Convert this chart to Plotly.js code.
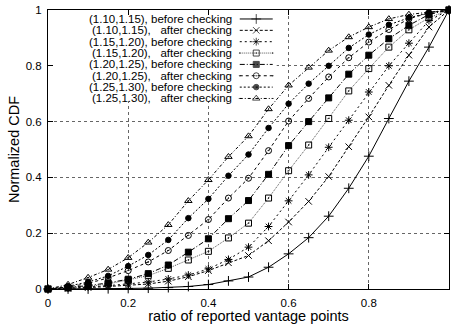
<!DOCTYPE html>
<html>
<head>
<meta charset="utf-8">
<script src="https://cdn.plot.ly/plotly-3.0.1.min.js"></script>
<style>html,body{margin:0;padding:0;background:#fff;}#chart{width:451px;height:324px;}</style>
</head>
<body>
<div id="chart"></div>
<script>
// ---- data ----
const ratio = [0, 0.05, 0.1, 0.15, 0.2, 0.25, 0.3, 0.35, 0.4, 0.45, 0.5, 0.55, 0.6, 0.65, 0.7, 0.75, 0.8, 0.85, 0.9, 0.95, 1];
const s110_115_before = [0, 0, 0, 0.001, 0.002, 0.003, 0.005, 0.009, 0.016, 0.029, 0.043, 0.078, 0.126, 0.184, 0.261, 0.361, 0.476, 0.611, 0.745, 0.867, 1];
const s110_115_after  = [0, 0.002, 0.005, 0.009, 0.013, 0.018, 0.028, 0.044, 0.066, 0.094, 0.12, 0.173, 0.24, 0.314, 0.403, 0.51, 0.617, 0.73, 0.838, 0.939, 1];
const s115_120_before = [0, 0.003, 0.007, 0.012, 0.018, 0.025, 0.036, 0.05, 0.072, 0.106, 0.15, 0.224, 0.316, 0.409, 0.508, 0.605, 0.706, 0.80, 0.881, 0.962, 1];
const s115_120_after  = [0, 0.004, 0.009, 0.018, 0.032, 0.048, 0.074, 0.104, 0.135, 0.183, 0.236, 0.326, 0.424, 0.516, 0.611, 0.71, 0.79, 0.867, 0.929, 0.972, 1];
const s120_125_before = [0, 0.005, 0.012, 0.022, 0.035, 0.055, 0.086, 0.132, 0.18, 0.252, 0.317, 0.411, 0.514, 0.60, 0.685, 0.77, 0.838, 0.897, 0.945, 0.984, 1];
const s120_125_after  = [0, 0.007, 0.02, 0.04, 0.066, 0.097, 0.138, 0.192, 0.249, 0.326, 0.397, 0.496, 0.602, 0.683, 0.76, 0.829, 0.885, 0.93, 0.968, 0.99, 1];
const s125_130_before = [0, 0.01, 0.025, 0.047, 0.082, 0.122, 0.176, 0.254, 0.323, 0.406, 0.482, 0.577, 0.664, 0.736, 0.80, 0.864, 0.912, 0.947, 0.972, 0.99, 1];
const s125_130_after  = [0, 0.016, 0.041, 0.07, 0.112, 0.167, 0.23, 0.316, 0.391, 0.474, 0.548, 0.645, 0.73, 0.794, 0.855, 0.903, 0.939, 0.968, 0.984, 0.992, 1];

const seriesNames = [
  "(1.10,1.15), before checking",
  "(1.10,1.15),   after checking",
  "(1.15,1.20), before checking",
  "(1.15,1.20),   after checking",
  "(1.20,1.25), before checking",
  "(1.20,1.25),   after checking",
  "(1.25,1.30), before checking",
  "(1.25,1.30),   after checking"
];
const seriesValues = [s110_115_before, s110_115_after, s115_120_before, s115_120_after,
                      s120_125_before, s120_125_after, s125_130_before, s125_130_after];
const xTickVals = [0, 0.2, 0.4, 0.6, 0.8, 1];
const xTickText = ["0", "0.2", "0.4", "0.6", "0.8", "1"];
const yTickVals = [0, 0.2, 0.4, 0.6, 0.8, 1];
const yTickText = ["0", "0.2", "0.4", "0.6", "0.8", "1"];

// ---- styles ----
const styles = [
  {symbol: "cross-thin-open", size: 7, dash: "solid", color: "#000"},
  {symbol: "x-thin-open", size: 6.5, dash: "3px,2px", color: "#000"},
  {symbol: "asterisk-open", size: 6.5, dash: "2px,3px", color: "#000"},
  {symbol: "square-open-dot", size: 6, dash: "1px,1px", color: "#555"},
  {symbol: "square", size: 6, dash: "5px,2px,1px,2px", color: "#000"},
  {symbol: "circle-open-dot", size: 6, dash: "3px,3px", color: "#000"},
  {symbol: "circle", size: 5.5, dash: "2px,2px", color: "#000"},
  {symbol: "triangle-up-open-dot", size: 6.5, dash: "3px,2px,1px,2px", color: "#000"}
];

const FONT = "Liberation Sans, Arial, Helvetica, sans-serif";
const traces = [];
seriesValues.forEach((vals, i) => {
  const st = styles[i];
  traces.push({
    x: ratio, y: vals, type: "scatter", mode: "lines+markers",
    name: seriesNames[i], showlegend: false, cliponaxis: false,
    line: {color: st.color, width: 1, dash: st.dash},
    marker: {symbol: st.symbol, size: st.size, color: "#000", line: {color: "#000", width: 1}}
  });
});

// legend samples on a pixel-space overlay axis pair
const L = 48, R = 449.5, T = 9.5, B = 289.5;
const rowY0 = 18.5, rowStep = 11.4;
const annotations = [];
seriesNames.forEach((nm, i) => {
  const st = styles[i];
  const yy = rowY0 + rowStep * i;
  traces.push({
    x: [240, 256.5, 273], y: [yy, yy, yy], xaxis: "x2", yaxis: "y2",
    type: "scatter", mode: "lines+markers", showlegend: false, hoverinfo: "skip", cliponaxis: false,
    line: {color: st.color, width: 1, dash: st.dash},
    marker: {symbol: st.symbol, size: [0, st.size, 0], color: "#000", line: {color: "#000", width: 1}}
  });
  annotations.push({
    x: 234, y: yy, xref: "x2", yref: "y2", text: nm, showarrow: false,
    xanchor: "right", yanchor: "middle", font: {family: FONT, size: 11.5, color: "#000"}
  });
});

// legend background box (pixel -> axis fraction)
const px2x = p => (p - L) / (R - L);
const py2y = p => (B - p) / (B - T);

const layout = {
  width: 451, height: 324,
  margin: {l: L, r: 451 - R, t: T, b: 324 - B, pad: 0},
  paper_bgcolor: "#fff", plot_bgcolor: "#fff",
  font: {family: FONT, color: "#000"},
  showlegend: false,
  xaxis: {
    range: [0, 1], tickvals: xTickVals, ticktext: xTickText,
    ticks: "inside", ticklen: 5, tickcolor: "#000", mirror: "allticks",
    showline: true, linecolor: "#000", linewidth: 1,
    showgrid: true, gridcolor: "#666", griddash: "dot", gridwidth: 1,
    zeroline: false, tickfont: {size: 11.5, family: FONT}, ticklabelstandoff: 3,
    title: {text: "ratio of reported vantage points", font: {size: 14.5, family: FONT}, standoff: 3}
  },
  yaxis: {
    range: [0, 1], tickvals: yTickVals, ticktext: yTickText,
    ticks: "inside", ticklen: 5, tickcolor: "#000", mirror: "allticks",
    showline: true, linecolor: "#000", linewidth: 1,
    showgrid: true, gridcolor: "#666", griddash: "dot", gridwidth: 1,
    zeroline: false, tickfont: {size: 11.5, family: FONT}, ticklabelstandoff: 3,
    title: {text: "Normalized CDF", font: {size: 14.5, family: FONT}, standoff: 2.5}
  },
  xaxis2: {overlaying: "x", range: [L, R], visible: false, fixedrange: true},
  yaxis2: {overlaying: "y", range: [B, T], visible: false, fixedrange: true},
  shapes: [{
    type: "rect", xref: "x", yref: "y", x0: px2x(50), x1: px2x(277), y0: py2y(101), y1: py2y(11),
    fillcolor: "#fff", line: {width: 0}, layer: "between"
  }],
  annotations: annotations
};

Plotly.newPlot("chart", traces, layout, {staticPlot: true, displayModeBar: false});
</script>
</body>
</html>
